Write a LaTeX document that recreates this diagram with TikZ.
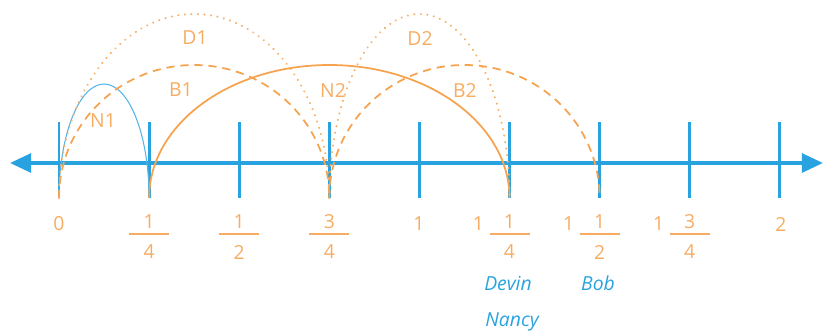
\documentclass[tikz,border=0pt]{standalone}
\usepackage{fontspec}
\setmainfont{Open Sans}
\usetikzlibrary{arrows.meta}
\definecolor{nlblue}{RGB}{41,163,224}
\definecolor{nlorange}{RGB}{246,163,80}
\definecolor{nltext}{RGB}{247,172,98}
\tikzset{
    axisline/.style={line width=3.2pt, color=nlblue, {Triangle[length=18pt, width=16pt]}-{Triangle[length=18pt, width=16pt]}},
    tickline/.style={line width=2.4pt, color=nlblue},
    jumpN/.style={line width=1.5pt, color=nlorange},
    jumpNblue/.style={line width=0.9pt, color=nlblue!80},
    jumpB/.style={line width=1.5pt, color=nlorange, dash pattern=on 7pt off 5pt},
    jumpD/.style={line width=1.9pt, color=nlorange!85, dash pattern=on 0.1pt off 5.5pt, line cap=round},
    jumplbl/.style={font=\fontsize{16.5}{20}\selectfont, text=nltext},
    ticklbl/.style={font=\fontsize{16.5}{20}\selectfont, text=nltext, inner sep=0pt},
    fracbar/.style={line width=1.1pt, color=nltext},
    namelbl/.style={font=\fontsize{16.5}{20}\selectfont\itshape, text=nlblue}
}
\begin{document}
\begin{tikzpicture}[x=0.03cm, y=0.03cm]
    \useasboundingbox (0,0) rectangle (824,-335);
    % Number line
    \foreach \i in {0,...,8} {
        \coordinate (tt\i) at ({59+90.1*\i},-122);
        \coordinate (tb\i) at ({59+90.1*\i},-198);
    }
    \coordinate (aL) at (10,-163);
    \coordinate (aR) at (823,-163);
    \draw[axisline] (aL) -- (aR);
    \foreach \i in {0,...,8} \draw[tickline] (tt\i) -- (tb\i);

    % Jumps
    \draw[jumpNblue] (tb0) arc[start angle=180, end angle=0, x radius=45.05, y radius=114];
    \draw[jumpB] (tb0) arc[start angle=180, end angle=0, x radius=135.15, y radius=133];
    \draw[jumpD] (tb0) arc[start angle=180, end angle=0, x radius=135.15, y radius=184];
    \draw[jumpN] (tb1) arc[start angle=180, end angle=0, x radius=180.2, y radius=133];
    \draw[jumpD] (tb3) arc[start angle=180, end angle=0, x radius=90.1, y radius=184];
    \draw[jumpB] (tb3) arc[start angle=180, end angle=0, x radius=135.15, y radius=133];

    % Jump labels
    \node[jumplbl] (lN1) at (103,-121) {N1};
    \node[jumplbl] (lB1) at (181,-90) {B1};
    \node[jumplbl] (lD1) at (195,-38) {D1};
    \node[jumplbl] (lN2) at (333,-90) {N2};
    \node[jumplbl] (lD2) at (420,-38) {D2};
    \node[jumplbl] (lB2) at (465,-90) {B2};

    % Tick labels
    \node[ticklbl] (w0) at (59,-224) {0};
    \node[ticklbl] (w4) at (419,-224) {1};
    \node[ticklbl] (w8) at (781,-224) {2};
    \foreach \i/\n/\d in {1/1/4, 2/1/2, 3/3/4, 5/1/4, 6/1/2, 7/3/4} {
        \node[ticklbl] (num\i) at ({59+90.1*\i},-222) {\n};
        \node[ticklbl] (den\i) at ({59+90.1*\i},-252) {\d};
        \draw[fracbar] ({59+90.1*\i-20},-234) -- ({59+90.1*\i+20},-234);
    }
    \foreach \i in {5,6,7}
        \node[ticklbl] (whole\i) at ({59+90.1*\i-31},-224) {1};

    % Who landed where
    \node[namelbl] (nDevin) at (508,-283) {Devin};
    \node[namelbl] (nBob) at (598,-283) {Bob};
    \node[namelbl] (nNancy) at (512,-322) {Nancy};
\end{tikzpicture}
\end{document}
